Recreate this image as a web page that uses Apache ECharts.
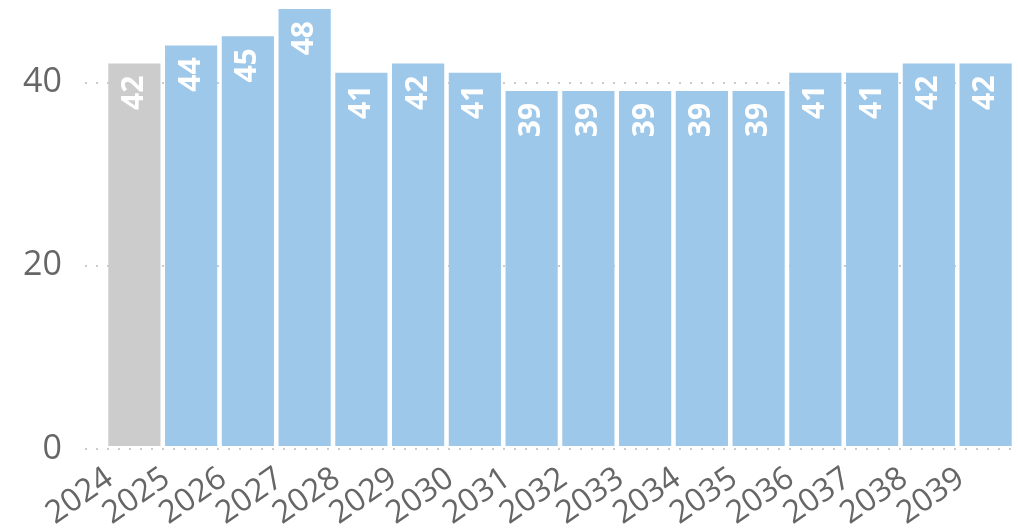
<!DOCTYPE html>
<html>
<head>
<meta charset="utf-8">
<script src="https://cdn.jsdelivr.net/npm/echarts@6/dist/echarts.min.js"></script>
<style>
  html, body { margin: 0; padding: 0; background: #fff; }
  #main { width: 1018px; height: 532px; }
</style>
</head>
<body>
<div id="main"></div>
<script>
// 数据
var years = ["2024", "2025", "2026", "2027", "2028", "2029", "2030", "2031",
  "2032", "2033", "2034", "2035", "2036", "2037", "2038", "2039"];
var values = [42, 44, 45, 48, 41, 42, 41, 39, 39, 39, 39, 39, 41, 41, 42, 42];
var yMin = 0, yMax = 48, yStep = 20;

var greyColor = "#cccccc";   // 第一年（实际值）
var blueColor = "#9ec8ea";   // 预测值
var font = "'Open Sans', 'Noto Sans', sans-serif";

var barData = values.map(function (v, i) {
  return { value: v, itemStyle: { color: i === 0 ? greyColor : blueColor } };
});

var myChart = echarts.init(document.getElementById("main"));
var option = {
  animation: false,
  grid: [
    // 左边网格：只放 y 轴和虚线
    { left: 85, right: 0, top: 9, bottom: 83 },
    // 柱子所在网格
    { left: 106, right: 4, top: 9, bottom: 83 }
  ],
  xAxis: [
    { gridIndex: 0, type: "value", min: 0, max: 1, show: false },
    {
      gridIndex: 1,
      type: "category",
      data: years,
      axisLine: { show: false },
      axisTick: { show: false },
      axisLabel: {
        rotate: 35,
        margin: 12,
        padding: [0, 30, 0, 0],
        fontSize: 32,
        fontFamily: font,
        color: "#666666",
        interval: 0
      }
    }
  ],
  yAxis: [
    {
      gridIndex: 0,
      type: "value",
      min: yMin,
      max: yMax,
      interval: yStep,
      axisLine: { show: false },
      axisTick: { show: false },
      axisLabel: {
        margin: 23,
        fontSize: 34,
        fontFamily: font,
        color: "#666666",
        showMaxLabel: false
      },
      splitLine: {
        show: true,
        showMaxLine: false,
        lineStyle: { color: "#cccccc", width: 2, type: [2, 9] }
      }
    },
    { gridIndex: 1, type: "value", min: yMin, max: yMax, show: false }
  ],
  series: [
    {
      type: "bar",
      xAxisIndex: 1,
      yAxisIndex: 1,
      data: barData,
      barCategoryGap: "8%",
      label: {
        show: true,
        position: "insideTop",
        rotate: 90,
        align: "right",
        verticalAlign: "middle",
        distance: 12,
        color: "#ffffff",
        fontSize: 30,
        fontWeight: "bold",
        fontFamily: font
      }
    }
  ]
};
myChart.setOption(option);
</script>
</body>
</html>
